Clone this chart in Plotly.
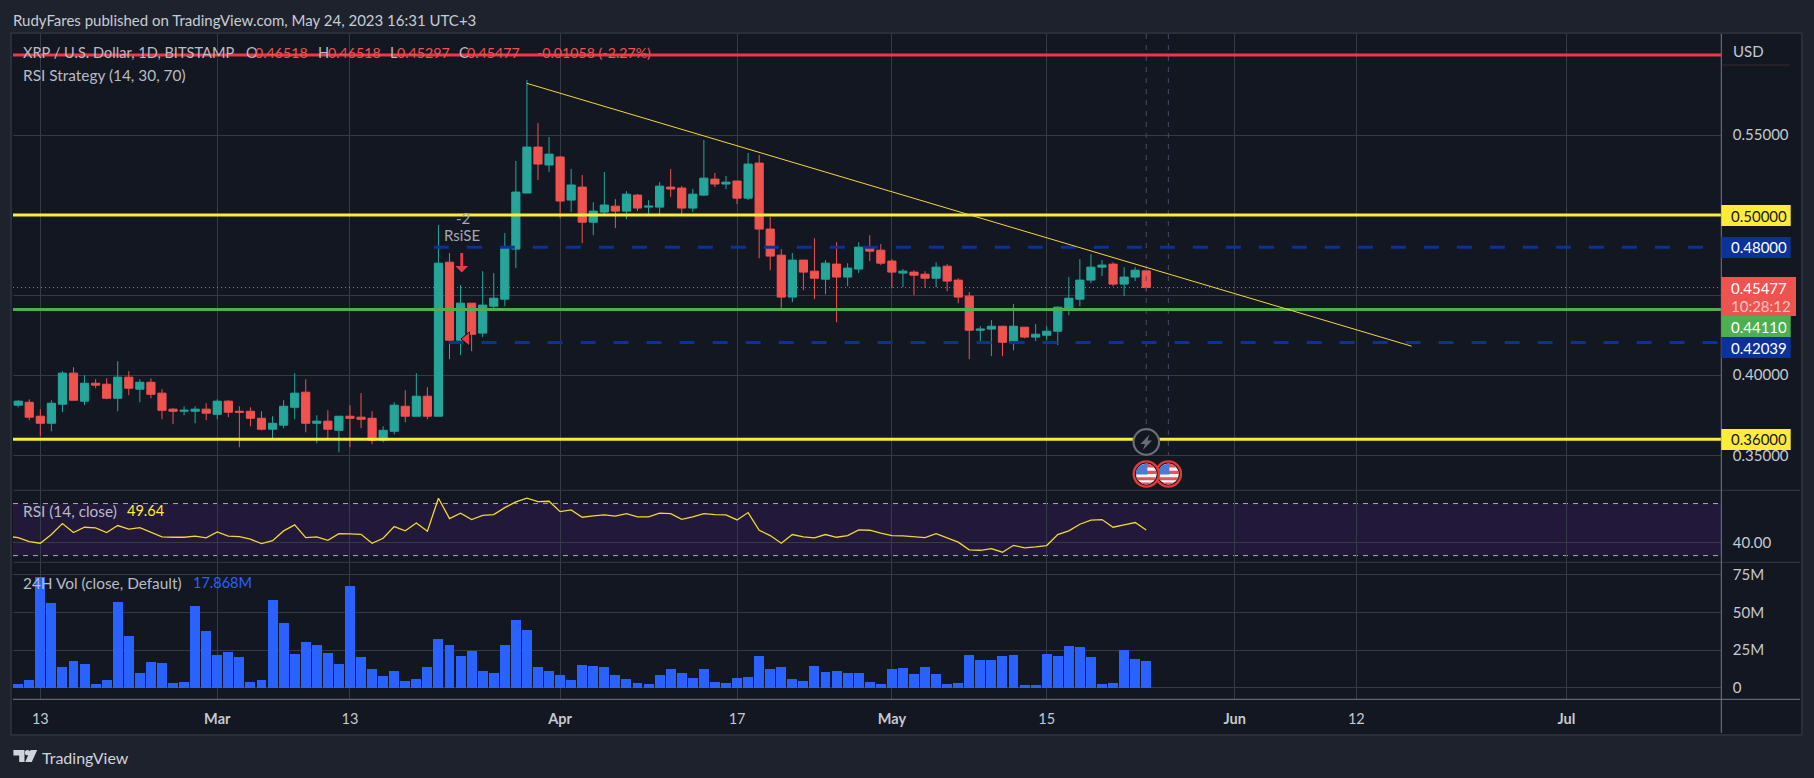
import math
import pandas as pd
import plotly.graph_objects as go

W, H = 1814, 778
FONT = "Lato"

first_day = "2023-02-11"
opens = [.3813,.3831,.3744,.3700,.3819,.4013,.3838,.3950,.3944,.3856,
 .3988,.3913,.3956,.3888,.3788,.3775,.3775,.3788,.3756,.3838,
 .3775,.3775,.3731,.3663,.3688,.3800,.3894,.3700,.3713,.3656,
 .3744,.3738,.3731,.3594,.3650,.3806,.3744,.3869,.3744,.4706,
 .4219,.4450,.4263,.4431,.4475,.4788,.5138,.5425,.5313,.5363,
 .5094,.5175,.4956,.5019,.5056,.5025,.5125,.5050,.5050,.5175,
 .5169,.5044,.5125,.5225,.5194,.5213,.5106,.5325,.4913,.4750,
 .4488,.4719,.4650,.4600,.4694,.4613,.4663,.4794,.4781,.4713,
 .4638,.4644,.4631,.4606,.4681,.4594,.4494,.4281,.4288,.4306,
 .4206,.4300,.4238,.4250,.4275,.4419,.4475,.4594,.4675,.4694,
 .4569,.4613,.46518]
highs = [.3844,.3850,.3788,.3844,.4025,.4050,.4000,.3975,.3981,.4088,
 .4025,.3975,.3981,.3913,.3794,.3806,.3806,.3825,.3850,.3844,
 .3806,.3800,.3775,.3744,.3844,.4013,.3975,.3750,.3781,.3744,
 .3813,.3888,.3775,.3681,.3831,.3906,.4013,.3925,.4938,.4763,
 .4563,.4450,.4650,.4638,.4888,.5338,.5844,.5575,.5488,.5369,
 .5288,.5250,.5081,.5269,.5100,.5150,.5131,.5094,.5206,.5288,
 .5181,.5163,.5469,.5263,.5244,.5213,.5388,.5375,.4988,.4788,
 .4763,.4719,.4856,.4719,.4831,.4700,.4831,.4875,.4819,.4725,
 .4663,.4656,.4650,.4706,.4694,.4606,.4519,.4306,.4344,.4306,
 .4444,.4300,.4319,.4306,.4431,.4613,.4725,.4756,.4719,.4706,
 .4675,.4675,.46518]
lows = [.3800,.3719,.3619,.3650,.3769,.3844,.3813,.3919,.3850,.3775,
 .3875,.3831,.3856,.3725,.3694,.3750,.3700,.3719,.3725,.3738,
 .3550,.3681,.3656,.3600,.3669,.3725,.3644,.3575,.3600,.3519,
 .3550,.3669,.3569,.3581,.3631,.3706,.3744,.3725,.3744,.4100,
 .4125,.4150,.4238,.4419,.4431,.4669,.5138,.5219,.5269,.4981,
 .5019,.4825,.4875,.5006,.4919,.4975,.5025,.5006,.5006,.5113,
 .5006,.5019,.5119,.5175,.5163,.5069,.5094,.4731,.4656,.4419,
 .4456,.4531,.4475,.4506,.4331,.4556,.4638,.4713,.4688,.4544,
 .4550,.4500,.4544,.4550,.4525,.4450,.4100,.4213,.4119,.4119,
 .4156,.4231,.4213,.4219,.4188,.4375,.4431,.4575,.4619,.4556,
 .4494,.4588,.45297]
closes = [.3838,.3738,.3700,.3825,.4013,.3844,.3950,.3938,.3856,.3988,
 .3919,.3956,.3881,.3781,.3775,.3781,.3788,.3763,.3838,.3769,
 .3769,.3731,.3663,.3700,.3806,.3888,.3700,.3713,.3663,.3744,
 .3731,.3725,.3594,.3656,.3813,.3744,.3869,.3744,.4700,.4219,
 .4450,.4256,.4438,.4481,.4800,.5144,.5425,.5319,.5381,.5088,
 .5188,.4956,.5025,.5063,.5025,.5131,.5044,.5056,.5181,.5163,
 .5044,.5131,.5231,.5194,.5206,.5106,.5319,.4913,.4744,.4488,
 .4719,.4644,.4606,.4700,.4613,.4669,.4800,.4775,.4700,.4644,
 .4650,.4625,.4606,.4675,.4588,.4488,.4281,.4288,.4306,.4206,
 .4306,.4238,.4256,.4275,.4425,.4481,.4594,.4675,.4688,.4569,
 .4613,.4656,.45477]
volume_m = [2.2,4.9,73.5,56.0,13.5,17.5,15.5,2.2,4.9,56.6,
 34.1,9.5,16.8,16.2,2.9,3.5,54.0,37.4,21.5,23.5,
 20.1,3.5,4.9,58.0,42.7,22.1,30.1,28.1,22.8,15.5,
 67.3,20.1,12.2,7.5,10.8,4.2,5.5,13.5,32.1,28.1,
 20.8,24.1,10.8,9.5,28.1,44.7,38.1,13.5,10.8,8.2,
 4.9,14.8,14.2,13.5,8.2,5.5,2.9,2.2,8.2,12.2,
 9.5,6.2,12.2,3.5,2.9,6.2,6.9,20.8,12.2,13.5,
 5.5,4.2,14.2,10.2,10.8,9.5,9.5,3.5,2.2,12.2,
 12.8,8.8,13.5,8.8,2.2,2.9,21.5,18.1,18.1,20.8,
 21.5,1.5,1.5,22.1,20.8,27.4,26.8,20.1,2.2,2.9,
 24.8,18.8,17.868]
rsi_first_day = "2023-02-10"
rsi_values = [44.9,43.8,40.8,39.5,46.2,54.6,47.7,51.8,51.3,47.7,53.1,
 50.3,51.5,48.2,44.4,44.1,44.1,44.9,43.6,48.2,44.9,
 44.6,42.6,39.2,41.5,49.0,53.6,43.8,44.4,41.8,46.9,
 46.7,46.4,39.5,43.3,52.3,49.0,55.1,48.7,74.1,58.5,
 62.6,57.7,61.0,61.5,66.9,71.3,74.1,71.5,71.8,63.8,
 65.1,59.5,60.5,61.3,60.3,62.3,59.7,59.7,62.6,62.3,
 57.9,59.7,62.3,61.5,61.3,57.4,63.1,49.5,45.4,39.5,
 46.2,44.4,43.6,46.2,44.1,45.4,49.7,49.5,47.2,45.4,
 45.1,44.6,43.8,46.9,43.8,40.3,34.4,34.1,35.4,32.6,
 37.9,35.9,36.7,37.7,46.2,49.0,54.1,57.2,57.7,51.8,
 53.6,55.4,49.64]

time_tick_dates = ["2023-02-13","2023-03-01","2023-03-13","2023-04-01","2023-04-17",
                   "2023-05-01","2023-05-15","2023-06-01","2023-06-12","2023-07-01"]
time_tick_text = ["13","<b>Mar</b>","13","<b>Apr</b>","17","<b>May</b>","15","<b>Jun</b>","12","<b>Jul</b>"]
x_range = ["2023-02-10 12:43", "2023-07-15 00:00"]

price_ticks = [.35,.40,.45,.50,.55,.60]
price_tick_text = ["0.35000","0.40000","","","0.55000",""]
price_range = [.328125,.613125]
rsi_ticks = [40]; rsi_tick_text = ["40.00"]; rsi_range = [24.85,80.2]
vol_ticks = [0,25,50,75]; vol_tick_text = ["0","25M","50M","75M"]; vol_range = [-7.6,83.1]

red_level = 0.6
yellow_levels = [0.5,0.36]
green_level = 0.4411
blue_levels = [0.48,0.42039]
blue_starts = ["2023-03-20 14:00","2023-03-21 22:00"]
last_close = 0.45477
trend_x = ["2023-03-29","2023-06-17"]
trend_y = [0.5823,0.41813]
event_days = ["2023-05-24","2023-05-26"]
rsi_bands = [30,70]

BG_OUT="#1e222d"; BG="#131722"; GRID="#363a45"; TXT="#b8bbc4"; AXIS="#787b86"
UP="#26a69a"; DOWN="#ef5350"; YEL="#ffeb3b"; GRN="#4caf50"; BLU="#0c3299"; REDL="#f23645"

days = pd.date_range(first_day, periods=len(opens)).strftime("%Y-%m-%d").tolist()
rsi_days = pd.date_range(rsi_first_day, periods=len(rsi_values)).strftime("%Y-%m-%d").tolist()

def px(v): return v / W
def py(v): return 1 - v / H

L, R = 13, 1721.3
fig = go.Figure()
fig.add_trace(go.Candlestick(x=days, open=opens, high=highs, low=lows, close=closes,
    increasing=dict(line=dict(color=UP,width=1),fillcolor=UP),
    decreasing=dict(line=dict(color=DOWN,width=1),fillcolor=DOWN),
    whiskerwidth=0, xaxis="x", yaxis="y", showlegend=False, hoverinfo="skip"))

def line(x,y,color,width,dash="solid",ax=("x","y")):
    fig.add_trace(go.Scatter(x=x,y=y,mode="lines",line=dict(color=color,width=width,dash=dash),
        xaxis=ax[0],yaxis=ax[1],showlegend=False,hoverinfo="skip"))

for d in event_days:
    line([d,d],[price_range[1],.35],"#4a4a66",1,"5px,6px")
line(x_range,[last_close]*2,DOWN,1,"1px,3px")
for lv,s in zip(blue_levels,blue_starts):
    line([s,x_range[1]],[lv,lv],BLU,3,"15px,18px")
line(x_range,[green_level]*2,GRN,3)
for lv in yellow_levels:
    line(x_range,[lv,lv],YEL,3)
line(x_range,[red_level]*2,REDL,3)
line(trend_x,trend_y,"#f5d63d",1)

line(rsi_days,rsi_values,"#f2d72e",1.3,ax=("x2","y2"))
fig.add_trace(go.Bar(x=days,y=volume_m,marker=dict(color="#2962ff",line=dict(width=0)),
    width=0.9*86400000,xaxis="x3",yaxis="y3",showlegend=False,hoverinfo="skip"))

shapes=[]
def rect(x0,y0,x1,y1,fill,layer="above"):
    shapes.append(dict(type="rect",xref="paper",yref="paper",x0=px(x0),x1=px(x1),y0=py(y0),y1=py(y1),
        fillcolor=fill,line=dict(width=0),layer=layer))
def hl(x0,x1,y,color,w=1):
    shapes.append(dict(type="line",xref="paper",yref="paper",x0=px(x0),x1=px(x1),y0=py(y),y1=py(y),
        line=dict(color=color,width=w),layer="above"))
def vl(x,y0,y1,color,w=1):
    shapes.append(dict(type="line",xref="paper",yref="paper",x0=px(x),x1=px(x),y0=py(y0),y1=py(y1),
        line=dict(color=color,width=w),layer="above"))
def poly(points,fill,lc=None,lw=0,layer="above"):
    p="M"+"L".join(f"{px(a):.5f},{py(b):.5f}" for a,b in points)+"Z"
    shapes.append(dict(type="path",xref="paper",yref="paper",path=p,fillcolor=fill,
        line=dict(width=lw,color=lc or fill),layer=layer))
def band(cx,cy,r,y0,y1,x0=None,x1=None,n=10):
    x0=-r if x0 is None else x0; x1=r if x1 is None else x1
    ys=[y0+(y1-y0)*k/n for k in range(n+1)]
    right=[(cx+min(x1,math.sqrt(max(r*r-v*v,0))),cy+v) for v in ys]
    left=[(cx+max(x0,-math.sqrt(max(r*r-v*v,0))),cy+v) for v in reversed(ys)]
    return right+left
def disc(cx,cy,r,fill,lc=None,lw=0):
    shapes.append(dict(type="circle",xref="paper",yref="paper",x0=px(cx-r),x1=px(cx+r),y0=py(cy-r),y1=py(cy+r),
        fillcolor=fill,line=dict(width=lw,color=lc or fill),layer="above"))

hl(13,1800,490.3,GRID); hl(13,1800,562.3,GRID); hl(13,1800,699.3,AXIS)
vl(R,34,733,AXIS)
hl(1722,1790,65,"#3b2a30",1)
shapes.append(dict(type="rect",xref="paper",yref="paper",x0=px(11),x1=px(1802),y0=py(33),y1=py(735),
    fillcolor=BG,line=dict(width=2,color="#2a2e39"),layer="below"))
shapes.append(dict(type="rect",xref="x2 domain",yref="y2",x0=0,x1=1,y0=rsi_bands[0],y1=rsi_bands[1],
    fillcolor="#21183a",line=dict(width=0),layer="below"))
for b in rsi_bands:
    shapes.append(dict(type="line",xref="x2 domain",yref="y2",x0=0,x1=1,y0=b,y1=b,
        line=dict(color="#a8abb4",width=1,dash="5px,5px"),layer="below"))

badges=[("0.50000",205,226,YEL,"#131722",215.5),("0.48000",237,258,BLU,"#ffffff",247.5),
        ("0.44110",316,337,GRN,"#ffffff",326.5),("0.42039",337,358,BLU,"#ffffff",347.5),
        ("0.36000",429,450,YEL,"#131722",439.5)]
rect(R,277,1796,316,DOWN)
for t,a,b,c,tc,m in badges:
    rect(R,a,1790.7,b,c)

cx=461.7
poly([(cx-1.4,253),(cx+1.4,253),(cx+1.4,266),(cx+6.4,266),(cx,272.5),(cx-6.4,266),(cx-1.4,266)],REDL)
poly([(461,339),(469.5,332),(469.5,346)],REDL,"#0b0e14",1)

ex0,ex1=1146.3,1168.4
disc(ex0,442,12.8,BG,"#6a6d78",2.2)
poly([(1149.5,434.5),(1140.5,444),(1145,444),(1143,450),(1152,440.5),(1147.5,440.5)],"#6a6d78")
for c in (ex1,ex0):
    disc(c,474,12.6,"#131722","#e53935",2.4)
    disc(c,474,10.4,"#f4f4f4")
    poly(band(c,474,10.4,-10.4,-6.4,x0=0),"#e8505b")
    poly(band(c,474,10.4,-3.2,0,x0=0),"#e8505b")
    poly(band(c,474,10.4,3.2,6.2),"#e8505b")
    poly(band(c,474,10.4,8.6,10.4),"#e8505b")
    poly(band(c,474,10.4,-10.4,0.4,x1=1),"#4b7bd4")

poly([(13.4,750),(24.5,750),(24.5,762),(19.2,762),(19.2,755.6),(13.4,755.6)],"#d1d4dc")
disc(27.5,752.7,2.6,"#d1d4dc")
poly([(30.5,750),(37.2,750),(31.8,762),(25.2,762)],"#d1d4dc")

fig.update_layout(width=W,height=H,margin=dict(l=0,r=0,t=0,b=0),autosize=False,
    paper_bgcolor=BG_OUT,plot_bgcolor="rgba(0,0,0,0)",boxgap=0.26,boxgroupgap=0,bargap=0,
    font=dict(family=FONT,size=14,color=TXT),shapes=shapes,hovermode=False)

def xax(anchor,labels=False):
    return dict(domain=[px(L),px(R)],range=x_range,type="date",anchor=anchor,tickmode="array",
        tickvals=time_tick_dates,ticktext=time_tick_text,showgrid=True,gridcolor=GRID,gridwidth=1,
        showticklabels=labels,ticks="outside" if labels else "",ticklen=6,tickcolor="rgba(0,0,0,0)",
        rangeslider=dict(visible=False),showline=False,zeroline=False,fixedrange=True,
        tickfont=dict(family=FONT,size=14.5,color="#c6c9d1"),layer="below traces")
def yax(anchor,dom,rg,tv,tt):
    return dict(domain=dom,range=rg,anchor=anchor,side="right",tickmode="array",tickvals=tv,ticktext=tt,
        showgrid=True,gridcolor=GRID,gridwidth=1,zeroline=False,showline=False,ticks="outside",ticklen=7.5,
        tickcolor="rgba(0,0,0,0)",fixedrange=True,tickfont=dict(family=FONT,size=15,color="#c6c9d1"),
        layer="below traces")
fig.update_layout(
    xaxis=xax("y"),xaxis2=xax("y2"),xaxis3=xax("y3",True),
    yaxis=yax("x",[py(490.3),py(34)],price_range,price_ticks,price_tick_text),
    yaxis2=yax("x2",[py(562.3),py(490.3)],rsi_range,rsi_ticks,rsi_tick_text),
    yaxis3=yax("x3",[py(699.3),py(562.3)],vol_range,vol_ticks,vol_tick_text))

def text(s,x,y,color=TXT,size=15.4,anchor="left"):
    fig.add_annotation(xref="paper",yref="paper",x=px(x),y=py(y),text=s,showarrow=False,
        xanchor=anchor,yanchor="middle",align="left",font=dict(family=FONT,size=size,color=color),
        borderpad=0,borderwidth=0)

text("RudyFares published on TradingView.com, May 24, 2023 16:31 UTC+3",13.4,20,"#c9ccd4",15)
text("XRP / U.S. Dollar, 1D, BITSTAMP",23,53,TXT,14.6)
for s,x in [("O",246.4),("H",318),("L",389.7),("C",458.5)]:
    text(s,x,53,TXT,14.6)
for s,x in [("0.46518",255.4),("0.46518",328),("0.45297",397.3),("0.45477",467.4),("-0.01058 (-2.27%)",537)]:
    text(s,x,53,DOWN,14.2)
text("RSI Strategy (14, 30, 70)",23,75)
text("RsiSE",462,235,"#a6a9b2",15,"center")
text("-2",463,218,"#a6a9b2",15,"center")
text("RSI (14, close)",23,510.7)
text("49.64",127.4,510.7,YEL,14.5)
text("24H Vol (close, Default)",23,582.7)
text("17.868M",192.5,582.7,"#2962ff",14.5)
text("USD",1733,50.7,"#c6c9d1",15)
text("TradingView",42,757,"#d1d4dc",16)
for t,a,b,c,tc,m in badges:
    text(t,1730.7,m,tc,15)
text("0.45477",1730.7,287.5,"#ffffff",15)
text("10:28:12",1731,305.7,"#f7c6c4",15)

fig.write_html("out.html",config=dict(displayModeBar=False),
    post_script="document.body.style.margin='0';document.body.style.background='#1e222d';document.documentElement.style.overflow='hidden';")
